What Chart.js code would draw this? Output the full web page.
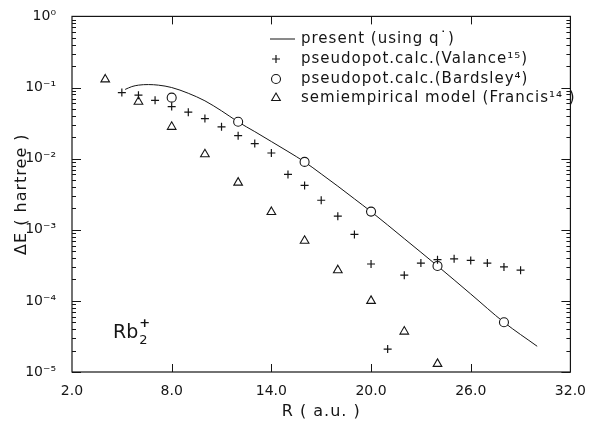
<!DOCTYPE html>
<html>
<head>
<meta charset="utf-8">
<script src="https://cdn.jsdelivr.net/npm/chart.js@4.4.0/dist/chart.umd.min.js"></script>
<style>
  html, body { margin: 0; padding: 0; background: #fff; }
  #wrap { position: relative; width: 589px; height: 429px; }
</style>
</head>
<body>
<div id="wrap"><canvas id="c" width="589" height="429"></canvas></div>
<script>
// internuclear distance R (a.u.) and energy splitting dE (hartree)
const curveR = [5.2, 5.6, 6.0, 6.6, 7.2, 8.0, 9.0, 10.0, 11.0, 12.0, 13.0, 14.0, 15.0, 16.0, 17.0, 18.0, 19.0, 20.0, 22.0, 24.0, 26.0, 28.0, 30.0];
const curveE = [0.094, 0.103, 0.108, 0.110, 0.108, 0.100, 0.083, 0.065, 0.047, 0.0328, 0.024, 0.0174, 0.0126, 0.009, 0.0061, 0.0041, 0.00272, 0.0018, 0.00075, 0.00031, 0.000125, 0.00005, 0.000023];

const valanceR = [5, 6, 7, 8, 9, 10, 11, 12, 13, 14, 15, 16, 17, 18, 19, 20, 21, 22, 23, 24, 25, 26, 27, 28, 29];
const valanceE = [0.085, 0.078, 0.066, 0.054, 0.045, 0.0366, 0.028, 0.021, 0.0163, 0.012, 0.006, 0.0042, 0.0026, 0.00155, 0.00086, 0.00033, 0.000021, 0.00023, 0.00034, 0.00038, 0.00039, 0.00037, 0.00034, 0.0003, 0.00027];

const bardsleyR = [8, 12, 16, 20, 24, 28];
const bardsleyE = [0.072, 0.033, 0.009, 0.0018, 0.00031, 0.00005];

const francisR = [4, 6, 8, 10, 12, 14, 16, 18, 20, 22, 24];
const francisE = [0.13, 0.063, 0.028, 0.0115, 0.0046, 0.00178, 0.0007, 0.00027, 0.0001, 0.000037, 0.000013];

const xTicks = [2, 8, 14, 20, 26, 32];
const xTickLabels = ['2.0', '8.0', '14.0', '20.0', '26.0', '32.0'];
const yDecades = [1e-5, 1e-4, 1e-3, 1e-2, 1e-1, 1];
const yTickLabels = ['10⁻⁵', '10⁻⁴', '10⁻³', '10⁻²', '10⁻¹', '10⁰'];

const legendLabels = [
  'present (using q\u02D9)',
  'pseudopot.calc.(Valance\u00B9\u2075)',
  'pseudopot.calc.(Bardsley\u2074)',
  'semiempirical model (Francis\u00B9\u2074 )'
];

const INK = '#151515';
const FONT = '"DejaVu Sans", sans-serif';
const pts = (xs, ys) => xs.map((x, i) => ({ x, y: ys[i] }));

// frame, inward ticks, legend, labels
const decor = {
  id: 'decor',
  afterDraw(chart) {
    const { ctx, chartArea: a, scales } = chart;
    const xs = scales.x, ys = scales.y;
    ctx.save();
    ctx.strokeStyle = INK;
    ctx.lineWidth = 1.2;
    ctx.strokeRect(a.left, a.top, a.right - a.left, a.bottom - a.top);

    ctx.lineWidth = 1;
    ctx.beginPath();
    xTicks.slice(1, -1).forEach(v => {
      const px = Math.round(xs.getPixelForValue(v)) + 0.5;
      ctx.moveTo(px, a.bottom); ctx.lineTo(px, a.bottom - 8);
      ctx.moveTo(px, a.top); ctx.lineTo(px, a.top + 8);
    });
    yDecades.forEach((d, k) => {
      for (let m = 1; m <= 9; m++) {
        const v = d * m;
        if (k === yDecades.length - 1 && m > 1) continue;
        const py = Math.round(ys.getPixelForValue(v)) + 0.5;
        const len = m === 1 ? 9 : 4;
        ctx.moveTo(a.left, py); ctx.lineTo(a.left + len, py);
        ctx.moveTo(a.right, py); ctx.lineTo(a.right - len, py);
      }
    });
    ctx.stroke();

    // legend
    ctx.font = '15px ' + FONT;
    ctx.letterSpacing = '1px';
    ctx.textBaseline = 'middle';
    ctx.textAlign = 'left';
    const rowY = [39, 59, 79, 98];
    const mx = 276;
    chart.data.datasets.forEach((ds, i) => {
      const y = rowY[i];
      if (ds.showLine) {
        ctx.beginPath();
        ctx.lineWidth = 1;
        ctx.moveTo(270, y); ctx.lineTo(295, y);
        ctx.stroke();
      } else {
        ctx.fillStyle = '#fff';
        ctx.lineWidth = ds.borderWidth;
        Chart.helpers.drawPoint(ctx, {
          pointStyle: ds.pointStyle, radius: ds.pointRadius, borderWidth: ds.borderWidth, rotation: 0
        }, mx, y);
      }
      ctx.fillStyle = INK;
      ctx.fillText(ds.label, 301, y);
    });
    ctx.letterSpacing = '0px';

    // molecule label
    ctx.fillStyle = INK;
    ctx.textBaseline = 'alphabetic';
    ctx.font = '19px ' + FONT;
    ctx.fillText('Rb', 113, 338);
    const w = ctx.measureText('Rb').width;
    ctx.font = '13px ' + FONT;
    ctx.fillText('2', 113 + w + 1, 344);
    ctx.font = 'bold 13px ' + FONT;
    ctx.fillText('+', 113 + w + 1, 327);

    // axis titles
    ctx.font = '16px ' + FONT;
    ctx.letterSpacing = '1px';
    ctx.textAlign = 'center';
    ctx.textBaseline = 'middle';
    ctx.fillText('R ( a.u. )', (a.left + a.right) / 2, 412);
    ctx.translate(22, (a.top + a.bottom) / 2);
    ctx.rotate(-Math.PI / 2);
    ctx.fillText('\u0394E ( hartree )', 0, 0);
    ctx.restore();
  }
};

new Chart(document.getElementById('c'), {
  type: 'scatter',
  data: {
    datasets: [
      {
        label: legendLabels[0],
        data: pts(curveR, curveE),
        showLine: true,
        borderColor: INK,
        borderWidth: 1,
        pointRadius: 0,
        cubicInterpolationMode: 'monotone',
        order: 3
      },
      {
        label: legendLabels[1],
        data: pts(valanceR, valanceE),
        showLine: false,
        pointStyle: 'cross',
        pointRadius: 4,
        borderWidth: 1.2,
        borderColor: INK,
        order: 1
      },
      {
        label: legendLabels[2],
        data: pts(bardsleyR, bardsleyE),
        showLine: false,
        pointStyle: 'circle',
        pointRadius: 4.5,
        borderWidth: 1.1,
        borderColor: INK,
        backgroundColor: '#fff',
        order: 2
      },
      {
        label: legendLabels[3],
        data: pts(francisR, francisE),
        showLine: false,
        pointStyle: 'triangle',
        pointRadius: 5,
        borderWidth: 1.1,
        borderColor: INK,
        backgroundColor: 'rgba(255,255,255,0)',
        order: 0
      }
    ]
  },
  options: {
    responsive: false,
    animation: false,
    devicePixelRatio: 1,
    layout: { padding: { left: 0, right: 16, top: 16, bottom: 0 } },
    plugins: { legend: { display: false }, tooltip: { enabled: false } },
    scales: {
      x: {
        type: 'linear',
        min: 2, max: 32,
        afterBuildTicks: s => { s.ticks = xTicks.map(v => ({ value: v })); },
        afterFit: s => { s.height = 57; },
        grid: { display: false },
        border: { display: false },
        ticks: {
          color: INK,
          font: { family: FONT, size: 14 },
          padding: 3,
          maxRotation: 0,
          callback: (v, i) => xTickLabels[i]
        }
      },
      y: {
        type: 'logarithmic',
        min: 1e-5, max: 1,
        afterBuildTicks: s => { s.ticks = yDecades.map(v => ({ value: v })); },
        afterFit: s => { s.width = 72; },
        grid: { display: false },
        border: { display: false },
        ticks: {
          color: INK,
          font: { family: FONT, size: 14 },
          padding: 8,
          callback: (v, i) => yTickLabels[i]
        }
      }
    }
  },
  plugins: [decor]
});
</script>
</body>
</html>
